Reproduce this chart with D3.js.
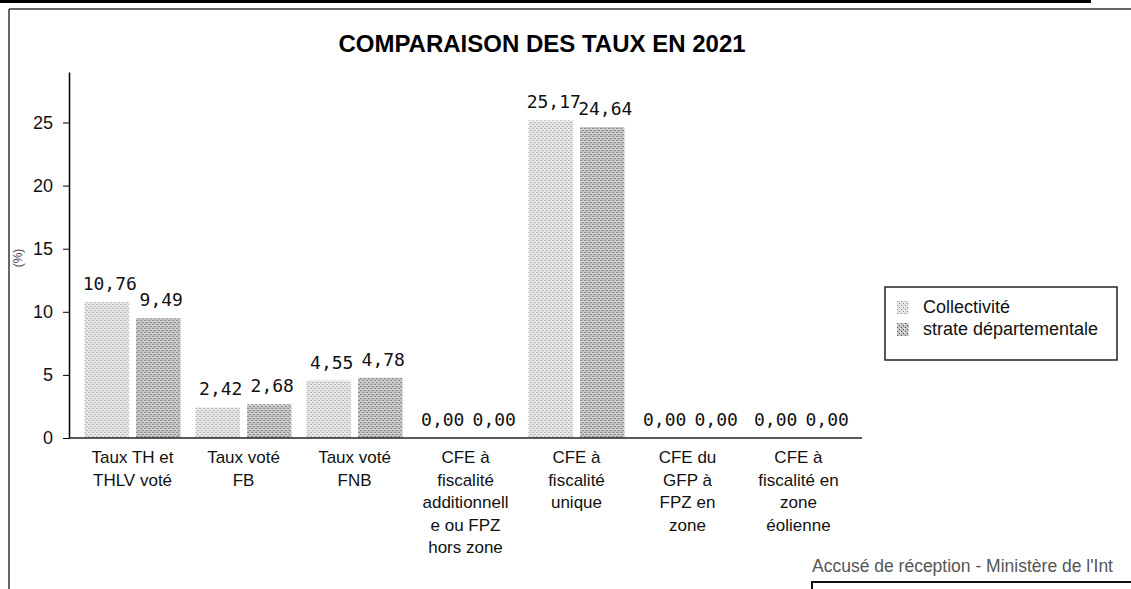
<!DOCTYPE html>
<html>
<head>
<meta charset="utf-8">
<script src="https://cdn.jsdelivr.net/npm/d3@7"></script>
<style>
  body { margin: 0; background: #fff; }
  svg { display: block; }
</style>
</head>
<body>
<svg id="chart" width="1131" height="589"></svg>
<script>

// categories (label lines as printed under each group)
var categories = [
    ["Taux TH et", "THLV voté"],
    ["Taux voté", "FB"],
    ["Taux voté", "FNB"],
    ["CFE à", "fiscalité", "additionnell", "e ou FPZ", "hors zone"],
    ["CFE à", "fiscalité", "unique"],
    ["CFE du", "GFP à", "FPZ en", "zone"],
    ["CFE à", "fiscalité en", "zone", "éolienne"]
];
var seriesNames = ["Collectivité", "strate départementale"];
var collectivite = [10.76, 2.42, 4.55, 0.00, 25.17, 0.00, 0.00];
var strate = [9.49, 2.68, 4.78, 0.00, 24.64, 0.00, 0.00];
var yTicks = [0, 5, 10, 15, 20, 25];

var svg = d3.select("#chart");

const margin = { top: 72, left: 69, right: 862, bottom: 438 };
const sans = "'Liberation Sans', Arial, sans-serif";

// stippled fills
var defs = svg.append("defs");
function stipple(id, base, dot) {
    var p = defs.append("pattern")
        .attr("id", id)
        .attr("patternUnits", "userSpaceOnUse")
        .attr("width", 4)
        .attr("height", 4);
    p.append("rect").attr("width", 4).attr("height", 4).attr("fill", base);
    p.append("rect").attr("x", 0).attr("y", 0).attr("width", 1).attr("height", 1).attr("fill", dot);
    p.append("rect").attr("x", 2).attr("y", 2).attr("width", 1).attr("height", 1).attr("fill", dot);
    p.append("rect").attr("x", 3).attr("y", 1).attr("width", 1).attr("height", 1).attr("fill", "#fff");
}
stipple("pat0", "#e4e4e4", "#8a8a8a");
stipple("pat1", "#c4c4c4", "#555");
var fills = ["url(#pat0)", "url(#pat1)"];

// page frame
svg.append("line").attr("x1", 0).attr("x2", 1090).attr("y1", 1.5).attr("y2", 1.5)
    .attr("stroke", "#000").attr("stroke-width", 3);
svg.append("line").attr("x1", 1090).attr("x2", 1090).attr("y1", 0).attr("y2", 3)
    .attr("stroke", "#000").attr("stroke-width", 2);
svg.append("line").attr("x1", 9).attr("x2", 1131).attr("y1", 9).attr("y2", 9)
    .attr("stroke", "#333").attr("stroke-width", 1.5);
svg.append("line").attr("x1", 9).attr("x2", 9).attr("y1", 9).attr("y2", 589)
    .attr("stroke", "#333").attr("stroke-width", 1.5);

// title
svg.append("text")
    .attr("x", 542)
    .attr("y", 52)
    .attr("text-anchor", "middle")
    .style("font-family", sans)
    .style("font-weight", "bold")
    .style("font-size", "24px")
    .text("COMPARAISON DES TAUX EN 2021");

// scales
var x0 = d3.scaleBand()
    .domain(d3.range(categories.length))
    .range([margin.left, margin.right])
    .paddingInner(0.135)
    .paddingOuter(0.14);

var x1 = d3.scaleBand()
    .domain([0, 1])
    .range([0, x0.bandwidth()])
    .paddingInner(0.136);

var yScale = d3.scaleLinear()
    .domain([0, 29])
    .range([margin.bottom, margin.top]);

// y axis
var yAxis = svg.append("g")
    .attr("transform", `translate(${margin.left},0)`)
    .call(d3.axisLeft(yScale).tickValues(yTicks).tickSize(6).tickSizeOuter(0));
yAxis.select(".domain").attr("stroke", "#000").attr("stroke-width", 1.5);
yAxis.selectAll(".tick line").attr("stroke", "#000");
yAxis.selectAll(".tick text")
    .attr("x", -16)
    .style("font-family", sans)
    .style("font-size", "18px")
    .attr("fill", "#111");

// y axis label
svg.append("text")
    .attr("transform", "translate(22,258) rotate(-90)")
    .attr("text-anchor", "middle")
    .style("font-family", sans)
    .style("font-size", "12px")
    .attr("fill", "#444")
    .text("(%)");

// bars
var data = categories.map(function (c, i) {
    return { i: i, values: [collectivite[i], strate[i]] };
});

var groups = svg.selectAll(".group")
    .data(data)
    .enter()
    .append("g")
    .attr("class", "group")
    .attr("transform", function (d) { return `translate(${x0(d.i)},0)`; });

groups.selectAll("rect")
    .data(function (d) { return d.values; })
    .enter()
    .append("rect")
    .attr("x", function (d, j) { return x1(j); })
    .attr("y", function (d) { return yScale(d); })
    .attr("width", x1.bandwidth())
    .attr("height", function (d) { return yScale(0) - yScale(d); })
    .attr("fill", function (d, j) { return fills[j]; });

// value labels
groups.selectAll(".val")
    .data(function (d) { return d.values; })
    .enter()
    .append("text")
    .attr("class", "val")
    .attr("x", function (d, j) { return x1(j) + x1.bandwidth() / 2 + 3; })
    .attr("y", function (d) { return yScale(d) - 12; })
    .attr("text-anchor", "middle")
    .style("font-family", "'DejaVu Sans Mono', monospace")
    .style("font-size", "18px")
    .attr("fill", "#111")
    .text(function (d) { return d.toFixed(2).replace(".", ","); });

// x baseline
svg.append("line")
    .attr("x1", margin.left)
    .attr("x2", margin.right)
    .attr("y1", yScale(0))
    .attr("y2", yScale(0))
    .attr("stroke", "#222")
    .attr("stroke-width", 1.5);

// category labels
var xAxis = svg.append("g")
    .attr("transform", `translate(0,${yScale(0)})`)
    .call(d3.axisBottom(x0).tickSize(0).tickFormat(""));
xAxis.select(".domain").remove();

xAxis.selectAll(".tick")
    .each(function (d) {
        var t = d3.select(this).append("text")
            .attr("text-anchor", "middle")
            .style("font-family", sans)
            .style("font-size", "17px")
            .attr("fill", "#111");
        categories[d].forEach(function (line, k) {
            t.append("tspan")
                .attr("x", 0)
                .attr("y", 25 + k * 22.5)
                .text(line);
        });
    });

// legend
var legend = svg.append("g")
    .attr("transform", "translate(885,287)");
legend.append("rect")
    .attr("width", 232)
    .attr("height", 73)
    .attr("fill", "#fff")
    .attr("stroke", "#222")
    .attr("stroke-width", 1.5);

legend.selectAll(".legend-item")
    .data(seriesNames)
    .enter()
    .append("g")
    .attr("class", "legend-item")
    .attr("transform", function (d, i) { return `translate(12, ${14 + i * 22})`; })
    .each(function (d, i) {
        d3.select(this).append("rect")
            .attr("width", 12)
            .attr("height", 13)
            .attr("fill", fills[i]);
        d3.select(this).append("text")
            .attr("x", 26)
            .attr("y", 12)
            .style("font-family", sans)
            .style("font-size", "18px")
            .attr("fill", "#111")
            .text(d);
    });

// footer stamp (cut at the page edge in the scan)
svg.append("text")
    .attr("x", 812)
    .attr("y", 572)
    .style("font-family", sans)
    .style("font-size", "17.5px")
    .attr("fill", "#555")
    .text("Accusé de réception - Ministère de l'Int");
svg.append("rect")
    .attr("x", 812)
    .attr("y", 582)
    .attr("width", 340)
    .attr("height", 30)
    .attr("fill", "none")
    .attr("stroke", "#111")
    .attr("stroke-width", 2);

</script>
</body>
</html>
